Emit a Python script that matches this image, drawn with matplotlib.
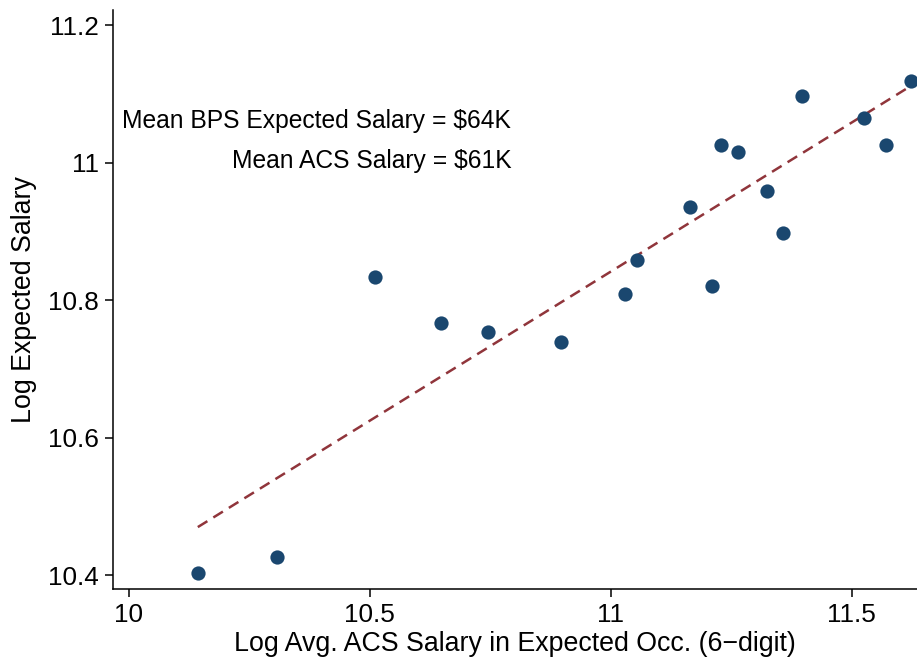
import numpy as np
import matplotlib
matplotlib.use("Agg")
import matplotlib.pyplot as plt

plt.rcParams["font.family"] = ["Liberation Sans", "DejaVu Sans"]

# binned points
log_acs_salary = [10.143, 10.307, 10.510, 10.647, 10.745, 10.896, 11.029, 11.054, 11.164,
                  11.210, 11.228, 11.263, 11.324, 11.357, 11.396, 11.525, 11.571, 11.622]
log_expected_salary = [10.403, 10.426, 10.833, 10.767, 10.754, 10.739, 10.809, 10.859, 10.936,
                       10.820, 11.025, 11.016, 10.958, 10.897, 11.097, 11.065, 11.025, 11.119]

# fitted line
fit_x = [10.143, 11.635]
fit_y = [10.470, 11.117]

x_ticks = [10, 10.5, 11, 11.5]
x_tick_labels = ["10", "10.5", "11", "11.5"]
y_ticks = [10.4, 10.6, 10.8, 11.0, 11.2]
y_tick_labels = ["10.4", "10.6", "10.8", "11", "11.2"]

notes = ["Mean BPS Expected Salary = $64K", "Mean ACS Salary = $61K"]
note_y = [11.061, 11.002]

point_color = "#1a476f"
line_color = "#90353b"

fig = plt.figure(figsize=(9.17, 6.62), dpi=100)
ax = fig.add_axes([0.1232, 0.1103, 0.8768, 0.8747])

ax.plot(fit_x, fit_y, linestyle=(0, (4.5, 2.8)), color=line_color, linewidth=1.8, zorder=2)
ax.scatter(log_acs_salary, log_expected_salary, s=105, color=point_color,
           linewidths=0, zorder=3, clip_on=False)

for txt, ty in zip(notes, note_y):
    ax.text(10.793, ty, txt, ha="right", va="center", fontsize=17.7)

ax.set_xlim(9.967, 11.635)
ax.set_ylim(10.380, 11.222)
ax.set_xticks(x_ticks)
ax.set_xticklabels(x_tick_labels)
ax.set_yticks(y_ticks)
ax.set_yticklabels(y_tick_labels)
ax.tick_params(axis="both", direction="out", length=6, width=1.1, labelsize=18.8, pad=4)

for side in ["top", "right"]:
    ax.spines[side].set_visible(False)
for side in ["left", "bottom"]:
    ax.spines[side].set_linewidth(1.1)

ax.set_xlabel("Log Avg. ACS Salary in Expected Occ. (6\u2212digit)", fontsize=19.3, labelpad=3)
ax.set_ylabel("Log Expected Salary", fontsize=19.3, labelpad=8)

fig.savefig("out.png", dpi=100)
